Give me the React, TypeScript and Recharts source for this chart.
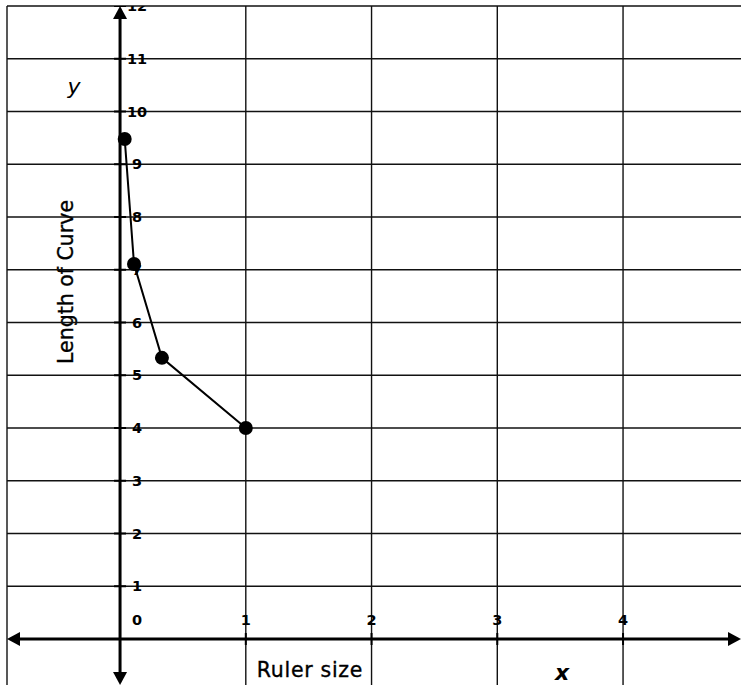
import React from 'react';
import { ComposedChart, Line, Scatter, XAxis, YAxis, ReferenceLine } from 'recharts';

// ruler size (1/27, 1/9, 1/3, 1) against measured length of the curve
const rulerSize = [0.037, 0.111, 0.333, 1];
const curveLength = [9.48, 7.11, 5.33, 4];

const xTicks = [1, 2, 3, 4];
const yTicks = [1, 2, 3, 4, 5, 6, 7, 8, 9, 10, 11, 12];
const originLabel = '0';

const X_DOMAIN: [number, number] = [-0.899, 4.938];
const Y_DOMAIN: [number, number] = [-0.872, 12];

const points = rulerSize.map((x, i) => ({ x, y: curveLength[i] }));
const yTickData = yTicks.map((v) => ({ x: 0, y: v, label: String(v) }));
const xTickData = xTicks.map((v) => ({ x: v, y: 0, label: String(v) }));
const originData = [{ x: 0, y: 0, label: originLabel }];

const tickFont = { fontFamily: 'DejaVu Sans', fontWeight: 700, fontSize: 14.5 } as const;

const YTick = (props: any) => {
  const { cx, cy, payload } = props;
  return (
    <g>
      <line x1={cx - 6} x2={cx + 6} y1={cy} y2={cy} stroke="#000" strokeWidth={2} />
      <text x={cx + 17} y={cy} dy="0.36em" textAnchor="middle" fill="#000" {...tickFont}>
        {payload.label}
      </text>
    </g>
  );
};

const XTick = (props: any) => {
  const { cx, cy, payload } = props;
  return (
    <g>
      <line x1={cx} x2={cx} y1={cy - 6} y2={cy + 6} stroke="#000" strokeWidth={2} />
      <text x={cx} y={cy - 19} dy="0.36em" textAnchor="middle" fill="#000" {...tickFont}>
        {payload.label}
      </text>
    </g>
  );
};

const OriginTick = (props: any) => {
  const { cx, cy, payload } = props;
  return (
    <text x={cx + 17} y={cy - 19} dy="0.36em" textAnchor="middle" fill="#000" {...tickFont}>
      {payload.label}
    </text>
  );
};

// axis line with an arrow head on both ends
const ArrowAxis = (props: any) => {
  const { x1, y1, x2, y2 } = props;
  const len = Math.hypot(x2 - x1, y2 - y1) || 1;
  const ux = (x2 - x1) / len;
  const uy = (y2 - y1) / len;
  const head = (tx: number, ty: number, dx: number, dy: number) => {
    const bx = tx - dx * 13;
    const by = ty - dy * 13;
    const px = -dy * 7;
    const py = dx * 7;
    return `${tx},${ty} ${bx + px},${by + py} ${bx - px},${by - py}`;
  };
  return (
    <g>
      <line
        x1={x1 + ux * 8}
        y1={y1 + uy * 8}
        x2={x2 - ux * 8}
        y2={y2 - uy * 8}
        stroke="#000"
        strokeWidth={3}
      />
      <polygon points={head(x1, y1, -ux, -uy)} fill="#000" />
      <polygon points={head(x2, y2, ux, uy)} fill="#000" />
    </g>
  );
};

export default function App() {
  return (
    <div style={{ width: 741, height: 685, background: '#fff' }}>
      <style>{'body{margin:0}'}</style>
      <ComposedChart
        width={741}
        height={685}
        data={points}
        margin={{ top: 6, right: 0, bottom: 0, left: 7 }}
      >
        <XAxis type="number" dataKey="x" domain={X_DOMAIN} allowDataOverflow hide />
        <YAxis type="number" dataKey="y" domain={Y_DOMAIN} allowDataOverflow hide />

        <ReferenceLine x={X_DOMAIN[0]} stroke="#111" strokeWidth={1.4} />
        {xTicks.map((v) => (
          <ReferenceLine key={`gx${v}`} x={v} stroke="#111" strokeWidth={1.4} />
        ))}
        {yTicks.map((v) => (
          <ReferenceLine key={`gy${v}`} y={v} stroke="#111" strokeWidth={1.4} />
        ))}

        <ReferenceLine y={0} shape={ArrowAxis} />
        <ReferenceLine x={0} shape={ArrowAxis} />

        <Scatter data={yTickData} dataKey="y" shape={YTick} isAnimationActive={false} />
        <Scatter data={xTickData} dataKey="y" shape={XTick} isAnimationActive={false} />
        <Scatter data={originData} dataKey="y" shape={OriginTick} isAnimationActive={false} />

        <Line
          type="linear"
          dataKey="y"
          stroke="#000"
          strokeWidth={2}
          dot={{ r: 7, fill: '#000', stroke: '#000', strokeWidth: 0 }}
          activeDot={false}
          isAnimationActive={false}
        />

        <text
          x={310}
          y={677}
          textAnchor="middle"
          fill="#000"
          stroke="#000"
          strokeWidth={0.35}
          fontFamily="DejaVu Sans"
          fontSize={20.5}
          letterSpacing={0.7}
        >
          Ruler size
        </text>
        <text x={562} y={680} textAnchor="middle" fill="#000" fontFamily="DejaVu Sans" fontSize={22} fontStyle="italic" fontWeight={700}>
          x
        </text>
        <text x={74} y={94} textAnchor="middle" fill="#000" fontFamily="DejaVu Sans" fontSize={22} fontStyle="italic">
          y
        </text>
        <text
          transform="translate(73, 282) rotate(-90)"
          textAnchor="middle"
          fill="#000"
          stroke="#000"
          strokeWidth={0.35}
          fontFamily="DejaVu Sans"
          fontSize={20.5}
        >
          Length of Curve
        </text>
      </ComposedChart>
    </div>
  );
}
